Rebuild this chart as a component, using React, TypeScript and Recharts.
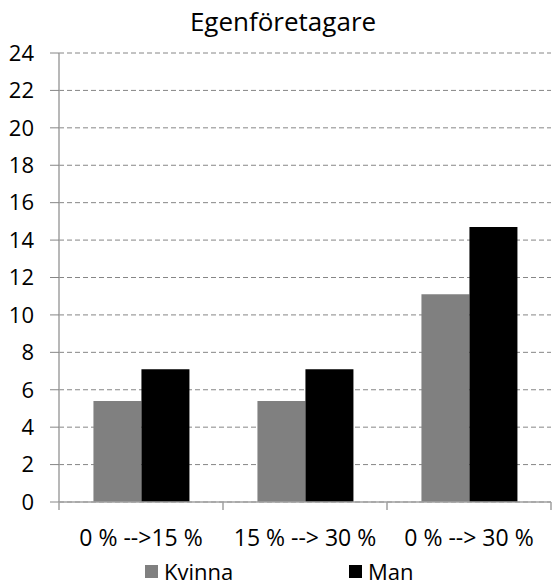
import { Bar, BarChart, CartesianGrid, Legend, XAxis, YAxis } from "recharts";

// Egenföretagare per intervall, uppdelat på kön
const categories = ["0 % -->15 %", "15 % --> 30 %", "0 % --> 30 %"];
const kvinna = [5.4, 5.4, 11.1];
const man = [7.1, 7.1, 14.7];
const yTicks = [0, 2, 4, 6, 8, 10, 12, 14, 16, 18, 20, 22, 24];

const data = categories.map((name, i) => ({ name, Kvinna: kvinna[i], Man: man[i] }));

const WIDTH = 552;
const HEIGHT = 585;
const MARGIN = { top: 53, right: 1, left: 0, bottom: 0 };
const Y_AXIS_WIDTH = 59;
const FONT = "'Open Sans', Lato, sans-serif";
const AXIS_GRAY = "#a0a0a0";
const GRID_GRAY = "#868686";

const PLOT_WIDTH = WIDTH - MARGIN.left - MARGIN.right - Y_AXIS_WIDTH;
const BAND = PLOT_WIDTH / categories.length;

// Excel-style category axis: tick marks sit on band boundaries, not centers
function CategoryTick(props: any) {
  const { x, y, payload, index } = props;
  const left = x - BAND / 2;
  return (
    <g>
      <line x1={left} x2={left} y1={y - 8} y2={y} stroke={AXIS_GRAY} strokeWidth={1.5} />
      {index === categories.length - 1 && (
        <line x1={x + BAND / 2} x2={x + BAND / 2} y1={y - 8} y2={y} stroke={AXIS_GRAY} strokeWidth={1.5} />
      )}
      <text x={x} y={y + 36} textAnchor="middle" fontFamily={FONT} fontSize={23} fill="#000">
        {payload.value}
      </text>
    </g>
  );
}

function LegendBox() {
  const item = (label: string, color: string, left: number) => (
    <div style={{ position: "absolute", left, top: 8, height: 22, display: "flex", alignItems: "center" }}>
      <span style={{ width: 13, height: 13, background: color, marginRight: 6 }} />
      <span style={{ fontFamily: FONT, fontSize: 22, color: "#000", lineHeight: "22px" }}>{label}</span>
    </div>
  );
  return (
    <div style={{ position: "relative", height: 33, width: WIDTH }}>
      {item("Kvinna", "#808080", 145)}
      {item("Man", "#000000", 349)}
    </div>
  );
}

export default function App() {
  return (
    <div style={{ position: "absolute", left: 0, top: 0, width: WIDTH, height: HEIGHT, background: "#fff" }}>
      <div
        style={{
          position: "absolute",
          top: 3,
          left: 0,
          width: WIDTH,
          textAlign: "center",
          fontFamily: FONT,
          fontSize: 26,
          paddingLeft: 14,
          boxSizing: "border-box",
        }}
      >
        Egenföretagare
      </div>
      <BarChart
        width={WIDTH}
        height={HEIGHT}
        data={data}
        margin={MARGIN}
        barCategoryGap="21%"
        barGap={0}
      >
        <CartesianGrid vertical={false} stroke={GRID_GRAY} strokeDasharray="5 3" />
        <XAxis
          dataKey="name"
          height={50}
          axisLine={{ stroke: AXIS_GRAY, strokeWidth: 1.5 }}
          tickLine={false}
          tick={<CategoryTick />}
          interval={0}
        />
        <YAxis
          width={Y_AXIS_WIDTH}
          domain={[0, 24]}
          ticks={yTicks}
          interval={0}
          axisLine={{ stroke: AXIS_GRAY, strokeWidth: 1.5 }}
          tickLine={{ stroke: GRID_GRAY }}
          tickSize={9}
          tickMargin={16}
          tick={{ fontFamily: FONT, fontSize: 22, fill: "#000" }}
        />
        <Legend
          verticalAlign="bottom"
          height={33}
          wrapperStyle={{ left: 0, width: WIDTH, overflow: "visible" }}
          content={<LegendBox />}
        />
        <Bar dataKey="Kvinna" fill="#808080" isAnimationActive={false} />
        <Bar dataKey="Man" fill="#000000" isAnimationActive={false} />
      </BarChart>
    </div>
  );
}
